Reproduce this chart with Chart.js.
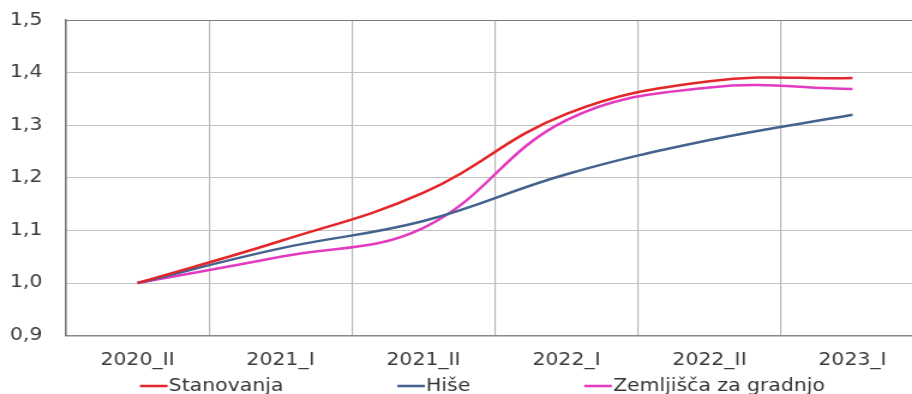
<!DOCTYPE html>
<html>
<head>
<meta charset="utf-8">
<title>Indeksi cen</title>
<script src="https://cdn.jsdelivr.net/npm/chart.js@4/dist/chart.umd.min.js"></script>
<style>
  html, body { margin: 0; padding: 0; background: #fff; width: 912px; height: 394px; overflow: hidden; }
  /* the chart is laid out narrower and stretched horizontally */
  #wrap { width: 804px; height: 394px; transform: scaleX(1.2); transform-origin: 0 0; }
  canvas { display: block; }
</style>
</head>
<body>
<div id="wrap"><canvas id="chart" width="804" height="394"></canvas></div>
<script>
// Half-year periods
const categories = ['2020_II', '2021_I', '2021_II', '2022_I', '2022_II', '2023_I'];

// Price indices (2020_II = 1,0)
const stanovanja = [1.000, 1.080, 1.172, 1.322, 1.384, 1.390];
const hise       = [1.000, 1.066, 1.118, 1.207, 1.272, 1.320];
const zemljisca  = [1.000, 1.050, 1.105, 1.310, 1.372, 1.369];

// Value axis
const yMin = 0.9, yMax = 1.5, yStep = 0.1;
const yTickLabels = ['0,9', '1,0', '1,1', '1,2', '1,3', '1,4', '1,5'];

const FONT = '"DejaVu Sans", Verdana, sans-serif';
Chart.defaults.font.family = FONT;
Chart.defaults.font.size = 17;
Chart.defaults.color = '#3a3a3a';

// Legend drawn as a short line followed directly by the series name
const lineLegend = {
  id: 'lineLegend',
  afterDraw(chart) {
    const ctx = chart.ctx;
    const sample = 23, gap = 95;
    ctx.save();
    ctx.font = '17px ' + FONT;
    ctx.textBaseline = 'middle';
    ctx.textAlign = 'left';
    const items = chart.data.datasets.map(ds => ({
      ds, w: sample + 1 + ctx.measureText(ds.label).width
    }));
    const total = items.reduce((a, it) => a + it.w, 0) + gap * (items.length - 1);
    let x = chart.width / 2 - total / 2;
    const y = chart.height - 8;
    items.forEach(it => {
      ctx.strokeStyle = it.ds.borderColor;
      ctx.lineWidth = 2.5;
      ctx.beginPath();
      ctx.moveTo(x, y);
      ctx.lineTo(x + sample, y);
      ctx.stroke();
      ctx.fillStyle = '#333';
      ctx.fillText(it.ds.label, x + sample + 1, y + 1);
      x += it.w + gap;
    });
    ctx.restore();
  }
};

const series = (label, data, color) => ({
  label, data,
  borderColor: color,
  backgroundColor: color,
  borderWidth: 2.5,
  pointRadius: 0,
  pointHoverRadius: 0,
  tension: 0.4,
  fill: false
});

new Chart(document.getElementById('chart'), {
  type: 'line',
  data: {
    labels: categories,
    datasets: [
      series('Stanovanja', stanovanja, '#e3262a'),
      series('Hiše', hise, '#44628e'),
      series('Zemljišča za gradnjo', zemljisca, '#e33bc0')
    ]
  },
  options: {
    responsive: false,
    animation: false,
    devicePixelRatio: 1,
    layout: { padding: { top: 0, right: 34, bottom: 8, left: 8.3 } },
    plugins: {
      legend: { display: false },
      tooltip: { enabled: false }
    },
    scales: {
      x: {
        type: 'category',
        offset: true,
        grid: { offset: true, color: '#b8b8b8', lineWidth: 1.2, drawTicks: false },
        border: { color: '#8a8a8a', width: 1.5 },
        ticks: { padding: 15, maxRotation: 0, autoSkip: false }
      },
      y: {
        min: yMin,
        max: yMax,
        afterFit(scale) { scale.width = 46.7; },
        grid: {
          drawTicks: false,
          lineWidth: 1,
          color: c => (c.tick && Math.abs(c.tick.value - yMax) < 1e-6) ? '#7a7a7a' : '#c4c4c4'
        },
        border: { color: '#6e6e6e', width: 1.5 },
        ticks: {
          stepSize: yStep,
          padding: 10,
          crossAlign: 'far',
          callback: (v, i) => yTickLabels[i] ?? String(v.toFixed(1)).replace('.', ',')
        }
      }
    }
  },
  plugins: [lineLegend]
});
</script>
</body>
</html>
